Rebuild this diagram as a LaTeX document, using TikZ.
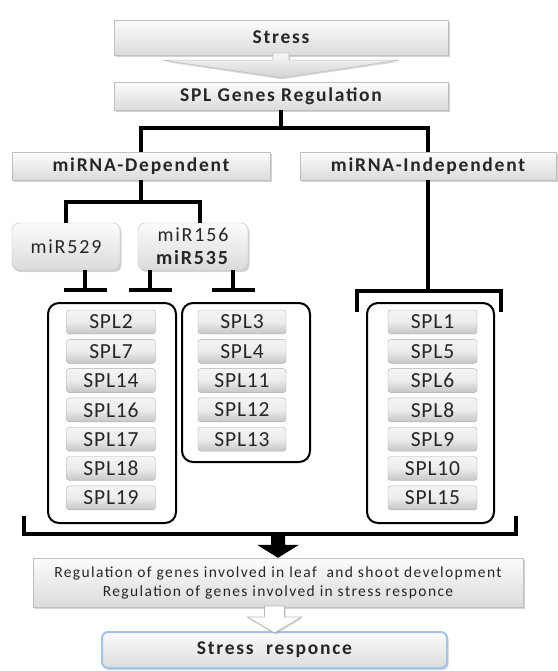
\documentclass[tikz,border=0pt]{standalone}
\usepackage{fontspec}
\setmainfont{Carlito}[LetterSpace=9]
\usetikzlibrary{calc,shadows,arrows.meta}
\definecolor{glow}{RGB}{165,195,230}

\begin{document}
\begin{tikzpicture}[x=1pt,y=-1pt,
    box/.style={draw=gray!50,top color=gray!3,bottom color=gray!28,
    drop shadow={shadow xshift=1.5pt,shadow yshift=-2pt,opacity=.35},
    text=black!85,inner sep=0pt,font=\fontsize{19.5}{21}\bfseries},
    mirbox/.style={box,rounded corners=7pt,align=center,
    font=\fontsize{20}{23}\selectfont},
    pill/.style={draw=gray!65,rounded corners=3pt,top color=gray!8,
    bottom color=gray!45,middle color=gray!15,minimum width=89pt,
    minimum height=24pt,inner sep=0pt,text=black!85,
    font=\fontsize{21.5}{21}\selectfont\addfontfeature{LetterSpace=4}},
    grp/.style={draw,line width=2pt,rounded corners=11pt},
    conn/.style={line width=4pt},
    inhib/.style={line width=4pt,-{Bar[width=43pt]},shorten >=10pt},
    fat/.style={top color=gray!5,bottom color=gray!35,draw=gray!50,line width=.6pt},
   ]
   \useasboundingbox (0,0) rectangle (557,671);
   \path (281,37.5) node[box,minimum width=334pt,minimum height=35pt] (stress) {Stress}
     (281,96) node[box,minimum width=334pt,minimum height=28pt] (reg) {SPL Genes Regulation}
     (141,166) node[box,minimum width=258pt,minimum height=28pt] (dep) {miRNA-Dependent}
     (428,166) node[box,minimum width=256pt,minimum height=28pt] (indep) {miRNA-Independent}
     (66,246.5) node[mirbox,minimum width=108pt,minimum height=47pt] (mir529) {miR529}
     (193,246.5) node[mirbox,minimum width=110pt,minimum height=47pt] (mir156) {miR156\\\textbf{miR535}};
   \path[fat,drop shadow={shadow xshift=1pt,shadow yshift=-1.5pt,opacity=.3}]
     ($(stress.south)+(-8,-2)$) -- ++(0,7) -- ++(-110,0) -- ($(reg.north)+(0,-4)$)
     -- ($(stress.south)+(118,5)$) -- ++(-110,0) -- ++(0,-7) -- cycle;
   \path (112,413) node[grp,minimum width=128pt,minimum height=220pt] (grpA) {}
     (246,382.5) node[grp,minimum width=128pt,minimum height=159pt] (grpB) {}
     (430.5,413) node[grp,minimum width=127pt,minimum height=220pt] (grpC) {};
   \foreach \lab [count=\i] in {SPL2,SPL7,SPL14,SPL16,SPL17,SPL18,SPL19}
     \node[pill] (a\i) at (111,{322+29.3*(\i-1)}) {\lab};
   \foreach \lab [count=\i] in {SPL3,SPL4,SPL11,SPL12,SPL13}
     \node[pill,minimum width=88pt] (b\i) at (242,{322+29.3*(\i-1)}) {\lab};
   \foreach \lab [count=\i] in {SPL1,SPL5,SPL6,SPL8,SPL9,SPL10,SPL15}
     \node[pill] (c\i) at (432.5,{322+29.3*(\i-1)}) {\lab};
   \draw[conn] (reg.south) -- ++(0,18) coordinate (h1);
   \draw[conn] (dep.north) |- (h1) -| (indep.north);
   \draw[conn] (dep.south) -- ++(0,22) coordinate (h2);
   \draw[conn] (mir529.north) |- (h2) -| ($(mir156.north)+(7,0)$);
   \draw[conn] (indep.south) -- ++(0,111) coordinate (h3);
   \draw[conn] ($(grpC.north west)+(-9,10)$) |- (h3) -| ($(grpC.north east)+(6,10)$);
   \coordinate (t1) at ($(grpA.north)+(-27,0)$);
   \coordinate (t2) at ($(grpA.north)+(38,0)$);
   \coordinate (t3) at ($(grpB.north)+(-13,0)$);
   \draw[inhib] (t1 |- mir529.south) -- (t1);
   \draw[inhib] (t2 |- mir156.south) -- (t2);
   \draw[inhib] (t3 |- mir156.south) -- (t3);
   \path (278,582.5) node[box,minimum width=490pt,minimum height=49pt,align=center,
       font=\fontsize{15.5}{19}\selectfont] (eff)
       {Regulation of genes involved in leaf\ \ and shoot development\\
        Regulation of genes involved in stress responce}
     (274.5,650) node[box,rounded corners=6pt,draw=glow,line width=2pt,
       minimum width=345pt,minimum height=36pt] (resp) {Stress\ \ responce};
   \draw[conn] ($(grpA.south west)+(-23,-8)$) -- ++(0,18) -| ($(grpC.south east)+(21,-8)$);
   \fill (eff.north) -- ++(-21,-13) -- ++(14,0) -- ++(0,-12) -- ++(14,0)
     -- ++(0,12) -- ++(14,0) -- cycle;
   \path[fill=white,draw=gray!55,line width=.8pt,
     drop shadow={shadow xshift=1pt,shadow yshift=-1.5pt,opacity=.3}]
     ($(resp.north)+(0,2)$) -- ++(-27,-16) -- ++(17,0) -- ++(0,-11) -- ++(20,0)
     -- ++(0,11) -- ++(17,0) -- cycle;
\end{tikzpicture}
\end{document}
